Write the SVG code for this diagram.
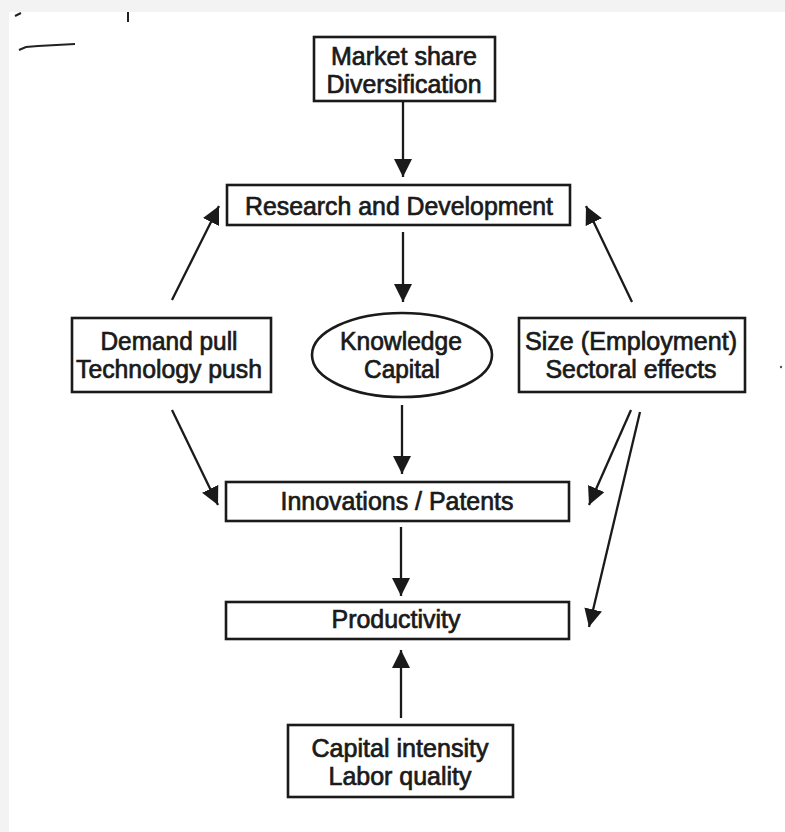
<svg xmlns="http://www.w3.org/2000/svg" width="785" height="832" viewBox="0 0 785 832">
<defs>
<style>
.box{fill:#fff;stroke:#1a1a1a;stroke-width:2.6}
.t{font-family:"Liberation Sans",Arial,sans-serif;font-size:25px;fill:#1a1a1a;text-anchor:middle;stroke:#1a1a1a;stroke-width:0.7}
.c{stroke:#1a1a1a;stroke-width:2.3;fill:none;marker-end:url(#ah)}
.mark{stroke:#222;stroke-width:2;fill:none}
</style>
<marker id="ah" markerUnits="userSpaceOnUse" markerWidth="20" markerHeight="20" refX="18" refY="9" orient="auto">
<path d="M0,0 L18,9 L0,18 z" fill="#1a1a1a"/>
</marker>
</defs>
<rect x="0" y="0" width="785" height="832" fill="#f3f3f3"/>
<rect x="9" y="12" width="776" height="820" fill="#fff"/>
<g id="artifacts">
<path class="mark" d="M15,16 L21,13"/>
<path class="mark" d="M128,12 L128,22"/>
<path class="mark" d="M19,50 L26,47 L38,46 L75,44"/>
<circle cx="781" cy="367" r="1.2" fill="#555"/>
</g>
<g id="connectors">
<line class="c" x1="403" y1="102" x2="403" y2="177"/>
<line class="c" x1="403" y1="232" x2="403" y2="302"/>
<line class="c" x1="402" y1="405" x2="402" y2="474"/>
<line class="c" x1="401" y1="527" x2="401" y2="596"/>
<line class="c" x1="401" y1="718" x2="401" y2="650"/>
<line class="c" x1="172" y1="300" x2="219" y2="206"/>
<line class="c" x1="632" y1="302" x2="586" y2="206"/>
<line class="c" x1="172" y1="410" x2="218" y2="505"/>
<line class="c" x1="631" y1="410" x2="589" y2="505"/>
<line class="c" x1="640" y1="412" x2="589" y2="627"/>
</g>
<g id="market">
<rect class="box" x="314" y="37" width="181" height="64"/>
<text class="t" x="404" y="65" textLength="146" lengthAdjust="spacingAndGlyphs">Market share</text>
<text class="t" x="404" y="93" textLength="155" lengthAdjust="spacingAndGlyphs">Diversification</text>
</g>
<g id="rnd">
<rect class="box" x="227" y="185" width="343" height="40"/>
<text class="t" x="399" y="215" textLength="308" lengthAdjust="spacingAndGlyphs">Research and Development</text>
</g>
<g id="demand">
<rect class="box" x="72" y="318" width="199" height="74"/>
<text class="t" x="169" y="350" textLength="137" lengthAdjust="spacingAndGlyphs">Demand pull</text>
<text class="t" x="169" y="378" textLength="186" lengthAdjust="spacingAndGlyphs">Technology push</text>
</g>
<g id="knowledge">
<ellipse class="box" cx="402" cy="355" rx="90" ry="42"/>
<text class="t" x="401" y="350" textLength="122" lengthAdjust="spacingAndGlyphs">Knowledge</text>
<text class="t" x="402" y="378" textLength="76" lengthAdjust="spacingAndGlyphs">Capital</text>
</g>
<g id="size">
<rect class="box" x="519" y="318" width="226" height="74"/>
<text class="t" x="631" y="350" textLength="212" lengthAdjust="spacingAndGlyphs">Size (Employment)</text>
<text class="t" x="631" y="378" textLength="171" lengthAdjust="spacingAndGlyphs">Sectoral effects</text>
</g>
<g id="innovations">
<rect class="box" x="226" y="482" width="343" height="39"/>
<text class="t" x="397" y="510" textLength="233" lengthAdjust="spacingAndGlyphs">Innovations / Patents</text>
</g>
<g id="productivity">
<rect class="box" x="226" y="602" width="343" height="37"/>
<text class="t" x="396" y="628" textLength="129" lengthAdjust="spacingAndGlyphs">Productivity</text>
</g>
<g id="capital">
<rect class="box" x="288" y="725" width="225" height="72"/>
<text class="t" x="400" y="757" textLength="177" lengthAdjust="spacingAndGlyphs">Capital intensity</text>
<text class="t" x="400" y="785" textLength="143" lengthAdjust="spacingAndGlyphs">Labor quality</text>
</g>
</svg>
